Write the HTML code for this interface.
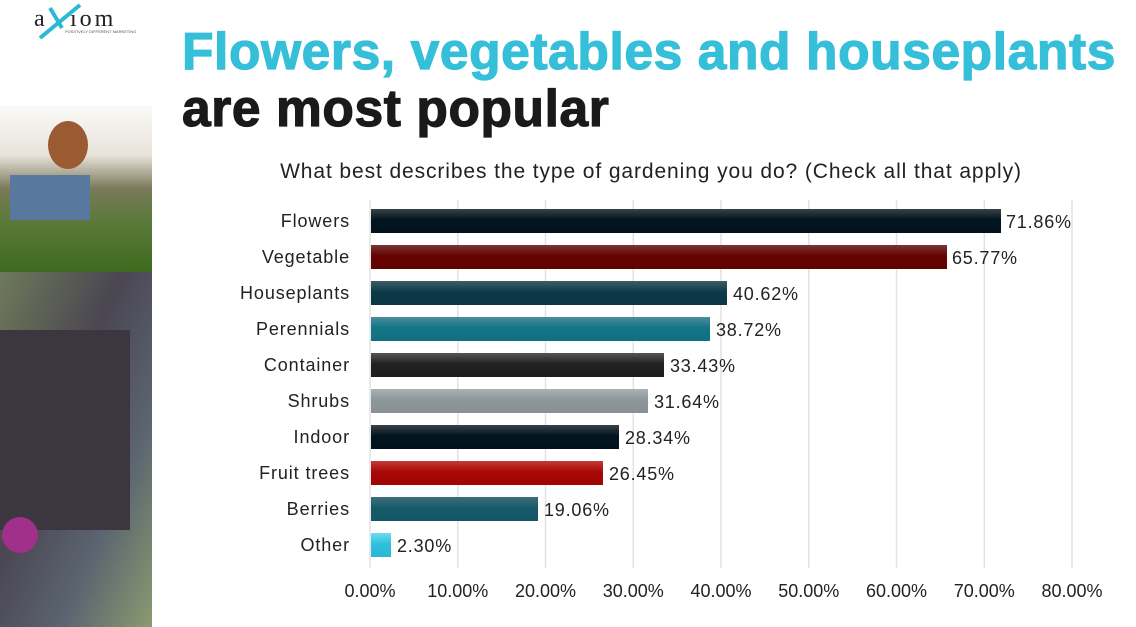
<!DOCTYPE html>
<html><head><meta charset="utf-8"><style>
body{margin:0;width:1136px;height:627px;overflow:hidden;background:#fff;font-family:"Liberation Sans",sans-serif;position:relative}
.t{position:absolute;left:182px;font-weight:bold;font-size:51.5px;letter-spacing:0.6px;white-space:nowrap;-webkit-text-stroke:1.2px currentColor}
</style></head><body>
<svg width="1136" height="627" style="position:absolute;left:0;top:0">
<defs>
<linearGradient id="g0" x1="0" y1="0" x2="0" y2="1"><stop offset="0" stop-color="#3a4148"/><stop offset=".45" stop-color="#031520"/><stop offset="1" stop-color="#00121c"/></linearGradient>
<linearGradient id="g1" x1="0" y1="0" x2="0" y2="1"><stop offset="0" stop-color="#7a3535"/><stop offset=".45" stop-color="#650302"/><stop offset="1" stop-color="#620200"/></linearGradient>
<linearGradient id="g2" x1="0" y1="0" x2="0" y2="1"><stop offset="0" stop-color="#3f5c66"/><stop offset=".45" stop-color="#0d3a48"/><stop offset="1" stop-color="#0b3644"/></linearGradient>
<linearGradient id="g3" x1="0" y1="0" x2="0" y2="1"><stop offset="0" stop-color="#4a8e9c"/><stop offset=".45" stop-color="#137585"/><stop offset="1" stop-color="#107080"/></linearGradient>
<linearGradient id="g4" x1="0" y1="0" x2="0" y2="1"><stop offset="0" stop-color="#555"/><stop offset=".45" stop-color="#222"/><stop offset="1" stop-color="#1d1d1d"/></linearGradient>
<linearGradient id="g5" x1="0" y1="0" x2="0" y2="1"><stop offset="0" stop-color="#a9b1b4"/><stop offset=".45" stop-color="#8d9699"/><stop offset="1" stop-color="#889194"/></linearGradient>
<linearGradient id="g6" x1="0" y1="0" x2="0" y2="1"><stop offset="0" stop-color="#c43a3a"/><stop offset=".45" stop-color="#a80806"/><stop offset="1" stop-color="#a00404"/></linearGradient>
<linearGradient id="g7" x1="0" y1="0" x2="0" y2="1"><stop offset="0" stop-color="#3d6f7c"/><stop offset=".45" stop-color="#175a6a"/><stop offset="1" stop-color="#145666"/></linearGradient>
<linearGradient id="g8" x1="0" y1="0" x2="0" y2="1"><stop offset="0" stop-color="#6fdcf0"/><stop offset=".45" stop-color="#2ec0dc"/><stop offset="1" stop-color="#28b8d4"/></linearGradient>
<linearGradient id="w" x1="0" y1="0" x2="0" y2="1"><stop offset="0" stop-color="#fbfaf8"/><stop offset=".3" stop-color="#e8e2da"/><stop offset=".5" stop-color="#7a7a5a"/><stop offset=".7" stop-color="#5a7a3a"/><stop offset="1" stop-color="#3e6a1e"/></linearGradient>
<linearGradient id="m" x1="0" y1="0" x2="1" y2="1"><stop offset="0" stop-color="#6f7a5a"/><stop offset=".4" stop-color="#4a4652"/><stop offset=".7" stop-color="#5b6470"/><stop offset="1" stop-color="#8a9a70"/></linearGradient>
</defs>
<rect x="0" y="105" width="152" height="167" fill="url(#w)"/>
<ellipse cx="68" cy="145" rx="20" ry="24" fill="#9a5a32"/>
<rect x="10" y="175" width="80" height="45" fill="#5878a0"/>
<rect x="0" y="272" width="152" height="355" fill="url(#m)"/>
<rect x="0" y="330" width="130" height="200" fill="#3c3640"/>
<circle cx="20" cy="535" r="18" fill="#a0308a"/>
<text x="34" y="26" font-family="Liberation Serif" font-size="24" fill="#222">a</text>
<text x="70" y="26" font-family="Liberation Serif" font-size="24" fill="#222" letter-spacing="3">iom</text>
<path d="M40 38 L80 5" stroke="#2bb8d6" stroke-width="4"/><path d="M50 8 L62 28" stroke="#2bb8d6" stroke-width="4"/>
<text x="65" y="33" font-size="4" fill="#555">POSITIVELY DIFFERENT MARKETING</text>
<g stroke="#e2e2e2" stroke-width="1.5">
<line x1="370" y1="200" x2="370" y2="568"/><line x1="457.8" y1="200" x2="457.8" y2="568"/><line x1="545.5" y1="200" x2="545.5" y2="568"/><line x1="633.3" y1="200" x2="633.3" y2="568"/><line x1="721" y1="200" x2="721" y2="568"/><line x1="808.8" y1="200" x2="808.8" y2="568"/><line x1="896.5" y1="200" x2="896.5" y2="568"/><line x1="984.3" y1="200" x2="984.3" y2="568"/><line x1="1072" y1="200" x2="1072" y2="568"/>
</g>
<g font-size="18" fill="#222" font-family="'Liberation Sans',sans-serif">
<text x="651" y="178" font-size="21" letter-spacing="0.9" text-anchor="middle" fill="#222">What best describes the type of gardening you do?  (Check all that apply)</text>
<g text-anchor="end" letter-spacing="0.9">
<text x="350" y="227">Flowers</text><text x="350" y="263">Vegetable</text><text x="350" y="299">Houseplants</text><text x="350" y="335">Perennials</text><text x="350" y="371">Container</text><text x="350" y="407">Shrubs</text><text x="350" y="443">Indoor</text><text x="350" y="479">Fruit trees</text><text x="350" y="515">Berries</text><text x="350" y="551">Other</text>
</g>
<rect x="371" y="209" width="630" height="24" fill="url(#g0)"/>
<rect x="371" y="245" width="576" height="24" fill="url(#g1)"/>
<rect x="371" y="281" width="356" height="24" fill="url(#g2)"/>
<rect x="371" y="317" width="339" height="24" fill="url(#g3)"/>
<rect x="371" y="353" width="293" height="24" fill="url(#g4)"/>
<rect x="371" y="389" width="277" height="24" fill="url(#g5)"/>
<rect x="371" y="425" width="248" height="24" fill="url(#g0)"/>
<rect x="371" y="461" width="232" height="24" fill="url(#g6)"/>
<rect x="371" y="497" width="167" height="24" fill="url(#g7)"/>
<rect x="371" y="533" width="20" height="24" fill="url(#g8)"/>
<g letter-spacing="0.8">
<text x="1006" y="228">71.86%</text><text x="952" y="264">65.77%</text><text x="733" y="300">40.62%</text><text x="716" y="336">38.72%</text><text x="670" y="372">33.43%</text><text x="654" y="408">31.64%</text><text x="625" y="444">28.34%</text><text x="609" y="480">26.45%</text><text x="544" y="516">19.06%</text><text x="397" y="552">2.30%</text>
</g>
<g text-anchor="middle">
<text x="370" y="597">0.00%</text><text x="457.8" y="597">10.00%</text><text x="545.5" y="597">20.00%</text><text x="633.3" y="597">30.00%</text><text x="721" y="597">40.00%</text><text x="808.8" y="597">50.00%</text><text x="896.5" y="597">60.00%</text><text x="984.3" y="597">70.00%</text><text x="1072" y="597">80.00%</text>
</g>
</g>
</svg>
<div class="t" style="top:21px;color:#35bfd9">Flowers, vegetables and houseplants</div>
<div class="t" style="top:78px;color:#1a1a1a">are most popular</div>
</body></html>
